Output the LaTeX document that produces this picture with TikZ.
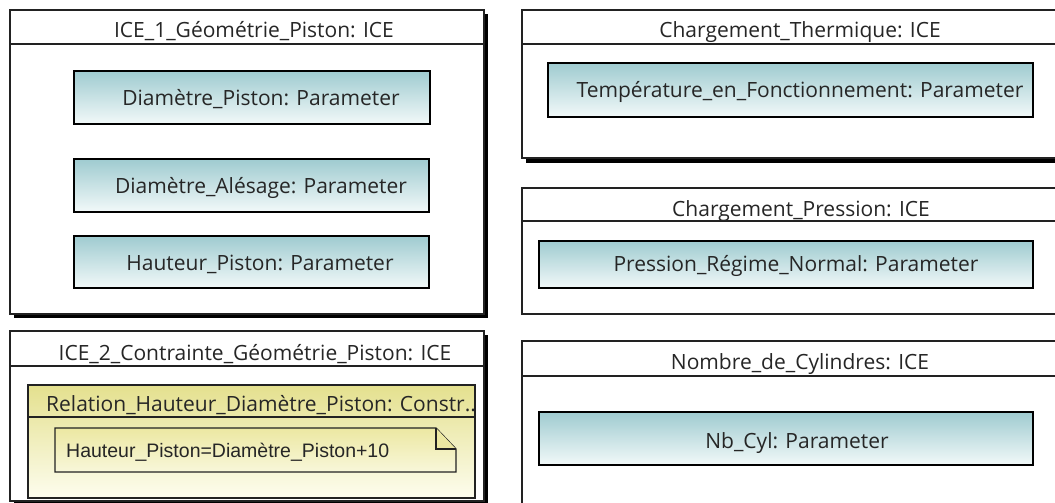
\documentclass[tikz,border=0pt]{standalone}
\usepackage{fontspec}
\setmainfont{Open Sans}
\newfontfamily\arialf{Liberation Sans}
\definecolor{paramtop}{HTML}{9FCBD0}
\definecolor{parambot}{HTML}{F2F9F9}
\definecolor{constop}{HTML}{E4E08E}
\definecolor{consbot}{HTML}{FDFDEE}
\definecolor{notetop}{HTML}{ECE8A2}
\definecolor{notebot}{HTML}{F8F7DA}
\definecolor{edge}{HTML}{222222}
\tikzset{
  cont/.style={draw=edge, line width=1.2pt, fill=white},
  sepline/.style={draw=edge, line width=1.2pt},
  shadowbox/.style={fill=black},
  parambox/.style={draw=black, line width=1.6pt, top color=paramtop, bottom color=parambot},
  consbox/.style={draw=edge, line width=1.2pt, top color=constop, bottom color=consbot},
  notebox/.style={draw=edge, line width=1.3pt, top color=notetop, bottom color=notebot},
  ttl/.style={inner sep=0pt, anchor=base, font=\fontsize{21}{25}\selectfont, text=black!85},
  ptxt/.style={inner sep=0pt, anchor=base, font=\fontsize{21}{25}\selectfont, text=black!85},
  ntxt/.style={inner sep=0pt, anchor=base west, font=\arialf\fontsize{19.5}{23}\selectfont, text=black!85},
}
\begin{document}
\begin{tikzpicture}[x=1pt,y=-1pt]
\useasboundingbox (0,0) rectangle (1055,503);
\clip (0,0) rectangle (1055,503);
\fill[white] (0,0) rectangle (1055,503);

% ---- ICE_1
\fill[shadowbox] (14,14) rectangle (488,318);
\draw[cont] (10,10) rectangle (484,314);
\draw[sepline] (10,44) -- (484,44);
\node[ttl] (t1) at (254,38) {ICE\_1\_Géométrie\_Piston: ICE};
\draw[parambox] (74,71) rectangle (430,124);
\node[ptxt] (p1) at (261,106) {Diamètre\_Piston: Parameter};
\draw[parambox] (74,159) rectangle (429,212);
\node[ptxt] (p2) at (261,193.5) {Diamètre\_Alésage: Parameter};
\draw[parambox] (74,236) rectangle (429,288);
\node[ptxt] (p3) at (260,270) {Hauteur\_Piston: Parameter};

% ---- ICE_2
\fill[shadowbox] (14,335) rectangle (488,510);
\draw[cont] (10,331) rectangle (484,501);
\draw[sepline] (10,366) -- (484,366);
\node[ttl] (t2) at (255,360) {ICE\_2\_Contrainte\_Géométrie\_Piston: ICE};
\draw[consbox] (28,385) rectangle (475,498);
\draw[sepline] (28,417) -- (475,417);
\begin{scope}
\clip (29,386) rectangle (474,416);
\node[ptxt, anchor=base west] (rel) at (46,411.5) {Relation\_Hauteur\_Diamètre\_Piston: Constr...};
\end{scope}
\draw[notebox] (55,428) -- (436,428) -- (456,449) -- (456,472) -- (55,472) -- cycle;
\draw[notebox, fill=none, top color=notetop, bottom color=notetop] (436,428) -- (436,449) -- (456,449);
\node[ntxt] (eq) at (66,457) {Hauteur\_Piston=Diamètre\_Piston+10};

% ---- Chargement_Thermique
\fill[shadowbox] (526,14) rectangle (1082,163);
\draw[cont] (522,10) rectangle (1078,158);
\draw[sepline] (522,44) -- (1078,44);
\node[ttl] (t3) at (800,37.5) {Chargement\_Thermique: ICE};
\draw[parambox] (548,63) rectangle (1033,117);
\node[ptxt] (p4) at (800,98) {Température\_en\_Fonctionnement: Parameter};

% ---- Chargement_Pression
\draw[cont] (522,188) rectangle (1078,314);
\draw[sepline] (522,221) -- (1078,221);
\node[ttl] (t4) at (801,216) {Chargement\_Pression: ICE};
\draw[parambox] (539,241) rectangle (1033,288);
\node[ptxt] (p5) at (796,271) {Pression\_Régime\_Normal: Parameter};

% ---- Nombre_de_Cylindres
\draw[cont] (522,341) rectangle (1078,510);
\draw[sepline] (522,376) -- (1078,376);
\node[ttl] (t5) at (800,369.5) {Nombre\_de\_Cylindres: ICE};
\draw[parambox] (539,412) rectangle (1033,465);
\node[ptxt] (p6) at (797,448) {Nb\_Cyl: Parameter};
\end{tikzpicture}
\end{document}
